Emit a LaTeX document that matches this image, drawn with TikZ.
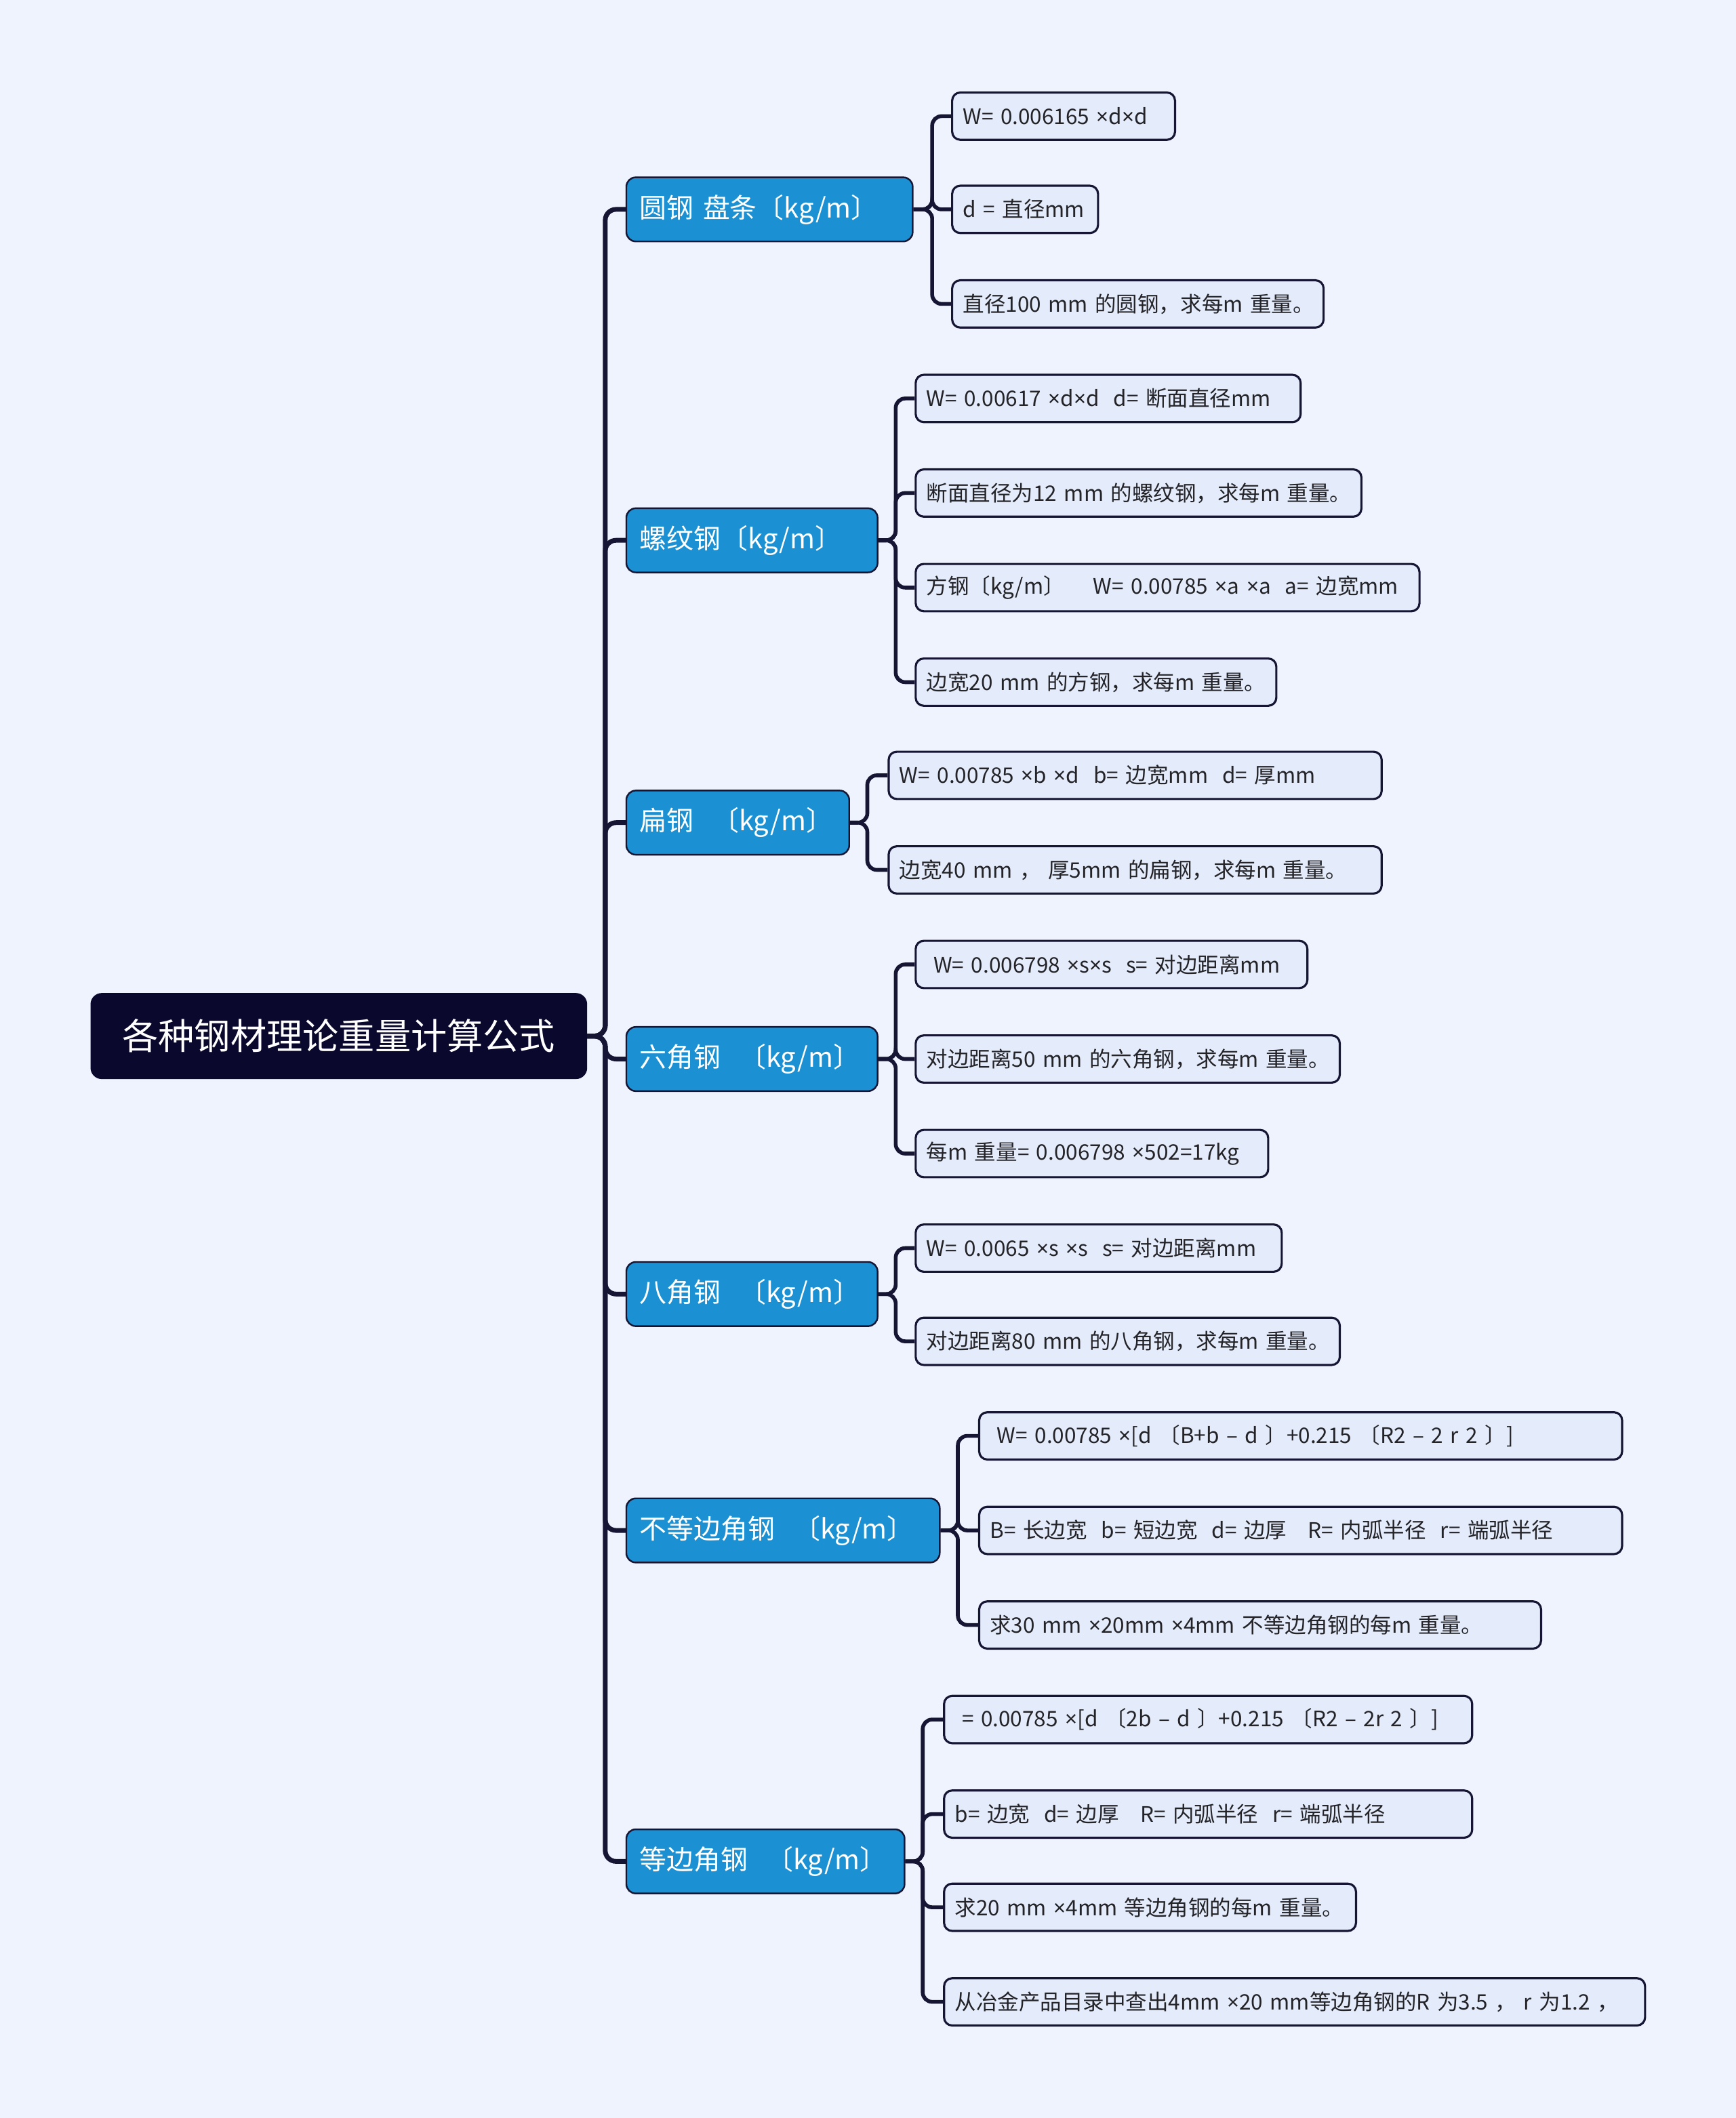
\documentclass[tikz,border=0pt]{standalone}
\usepackage{fontspec}
\setmainfont{Noto Sans CJK SC}
\newfontfamily\latin{Noto Sans}
\newcommand\fois{{\latin ×}}
\usetikzlibrary{positioning}
\definecolor{fond}{RGB}{238,243,253}
\definecolor{nuit}{RGB}{10,8,45}
\definecolor{bleu}{RGB}{27,144,210}
\definecolor{ciel}{RGB}{228,236,251}
\definecolor{trait}{RGB}{22,22,52}
\definecolor{encre}{RGB}{35,35,40}
\tikzset{
  racine/.style={draw=nuit,fill=nuit,text=white,rounded corners=0.16cm,inner xsep=0.44cm,
    minimum height=1.26cm,align=center,font=\fontsize{15.2}{18}\selectfont,anchor=west},
  branche/.style={draw=trait,line width=0.7pt,fill=bleu,text=white,rounded corners=0.14cm,inner xsep=0.2cm,
    minimum height=0.95cm,align=left,font=\fontsize{11.4}{14}\selectfont,anchor=west},
  feuille/.style={draw=trait,line width=0.9pt,fill=ciel,text=encre,rounded corners=0.12cm,inner xsep=0.16cm,
    minimum height=0.7cm,align=left,font=\fontsize{9}{11}\selectfont,anchor=west,
    execute at begin node={\hbox\bgroup},execute at end node={\egroup}},
  tronc/.style={trait,line width=2pt,rounded corners=0.16cm},
  rameau/.style={trait,line width=1.6pt,rounded corners=0.14cm}
}
\begin{document}
\begin{tikzpicture}[x=0.02cm,y=-0.02cm]
\useasboundingbox[fill=fond] (0,0) rectangle (1285,1568);
\node[racine,text width=6.46cm] (root) at (67,767) {各种钢材理论重量计算公式};
\node[branche,text width=3.84cm] (b1) at (463,155) {圆钢 盘条〔kg/m〕};
\node[branche,text width=3.32cm] (b2) at (463,400) {螺纹钢〔kg/m〕};
\node[branche,text width=2.90cm] (b3) at (463,609) {扁钢\ \ 〔kg/m〕};
\node[branche,text width=3.32cm] (b4) at (463,784) {六角钢\ \ 〔kg/m〕};
\node[branche,text width=3.32cm] (b5) at (463,958) {八角钢\ \ 〔kg/m〕};
\node[branche,text width=4.24cm] (b6) at (463,1133) {不等边角钢\ \ 〔kg/m〕};
\node[branche,text width=3.72cm] (b7) at (463,1378) {等边角钢\ \ 〔kg/m〕};
\node[feuille,text width=2.98cm] (l11) at (704,86) {W= 0.006165 \fois{}d\fois{}d};
\node[feuille,text width=1.84cm] (l12) at (704,155) {d = 直径mm};
\node[feuille,text width=5.18cm] (l13) at (704,225) {直径100 mm 的圆钢，求每m 重量。};
\node[feuille,text width=5.38cm] (l21) at (677,295) {W= 0.00617 \fois{}d\fois{}d\ \ d= 断面直径mm};
\node[feuille,text width=6.28cm] (l22) at (677,365) {断面直径为12 mm 的螺纹钢，求每m 重量。};
\node[feuille,text width=7.14cm] (l23) at (677,435) {方钢〔kg/m〕\ \ \ \ W= 0.00785 \fois{}a \fois{}a\ \ a= 边宽mm};
\node[feuille,text width=5.02cm] (l24) at (677,505) {边宽20 mm 的方钢，求每m 重量。};
\node[feuille,text width=6.98cm] (l31) at (657,574) {W= 0.00785 \fois{}b \fois{}d\ \ b= 边宽mm\ \ d= 厚mm};
\node[feuille,text width=6.98cm] (l32) at (657,644) {边宽40 mm ， 厚5mm 的扁钢，求每m 重量。};
\node[feuille,text width=5.48cm] (l41) at (677,714) {\ W= 0.006798 \fois{}s\fois{}s\ \ s= 对边距离mm};
\node[feuille,text width=5.96cm] (l42) at (677,784) {对边距离50 mm 的六角钢，求每m 重量。};
\node[feuille,text width=4.90cm] (l43) at (677,854) {每m 重量= 0.006798 \fois{}502=17kg};
\node[feuille,text width=5.10cm] (l51) at (677,924) {W= 0.0065 \fois{}s \fois{}s\ \ s= 对边距离mm};
\node[feuille,text width=5.96cm] (l52) at (677,993) {对边距离80 mm 的八角钢，求每m 重量。};
\node[feuille,text width=9.20cm] (l61) at (724,1063) {\ W= 0.00785 \fois{}[d 〔B+b – d 〕+0.215 〔R2 – 2 r 2 〕]};
\node[feuille,text width=9.20cm] (l62) at (724,1133) {B= 长边宽\ \ b= 短边宽\ \ d= 边厚\ \ \ R= 内弧半径\ \ r= 端弧半径};
\node[feuille,text width=8.00cm] (l63) at (724,1203) {求30 mm \fois{}20mm \fois{}4mm 不等边角钢的每m 重量。};
\node[feuille,text width=7.50cm] (l71) at (698,1273) {\ = 0.00785 \fois{}[d 〔2b – d 〕+0.215 〔R2 – 2r 2 〕]};
\node[feuille,text width=7.50cm] (l72) at (698,1343) {b= 边宽\ \ d= 边厚\ \ \ R= 内弧半径\ \ r= 端弧半径};
\node[feuille,text width=5.78cm] (l73) at (698,1412) {求20 mm \fois{}4mm 等边角钢的每m 重量。};
\node[feuille,text width=10.06cm] (l74) at (698,1482) {从冶金产品目录中查出4mm \fois{}20 mm等边角钢的R 为3.5 ， r 为1.2 ，};
\coordinate (t0) at (448,767);
\coordinate (s1) at (690,155);
\coordinate (s2) at (663,400);
\coordinate (s3) at (642,609);
\coordinate (s4) at (663,784);
\coordinate (s5) at (663,958);
\coordinate (s6) at (709,1133);
\coordinate (s7) at (683,1378);
\foreach \b in {b1,b2,b3,b4,b5,b6,b7}
  \draw[tronc] (root.east) -- (t0) |- (\b.west);
\foreach \l in {l11,l12,l13} \draw[rameau] (b1.east) -- (s1) |- (\l.west);
\foreach \l in {l21,l22,l23,l24} \draw[rameau] (b2.east) -- (s2) |- (\l.west);
\foreach \l in {l31,l32} \draw[rameau] (b3.east) -- (s3) |- (\l.west);
\foreach \l in {l41,l42,l43} \draw[rameau] (b4.east) -- (s4) |- (\l.west);
\foreach \l in {l51,l52} \draw[rameau] (b5.east) -- (s5) |- (\l.west);
\foreach \l in {l61,l62,l63} \draw[rameau] (b6.east) -- (s6) |- (\l.west);
\foreach \l in {l71,l72,l73,l74} \draw[rameau] (b7.east) -- (s7) |- (\l.west);
\end{tikzpicture}
\end{document}
